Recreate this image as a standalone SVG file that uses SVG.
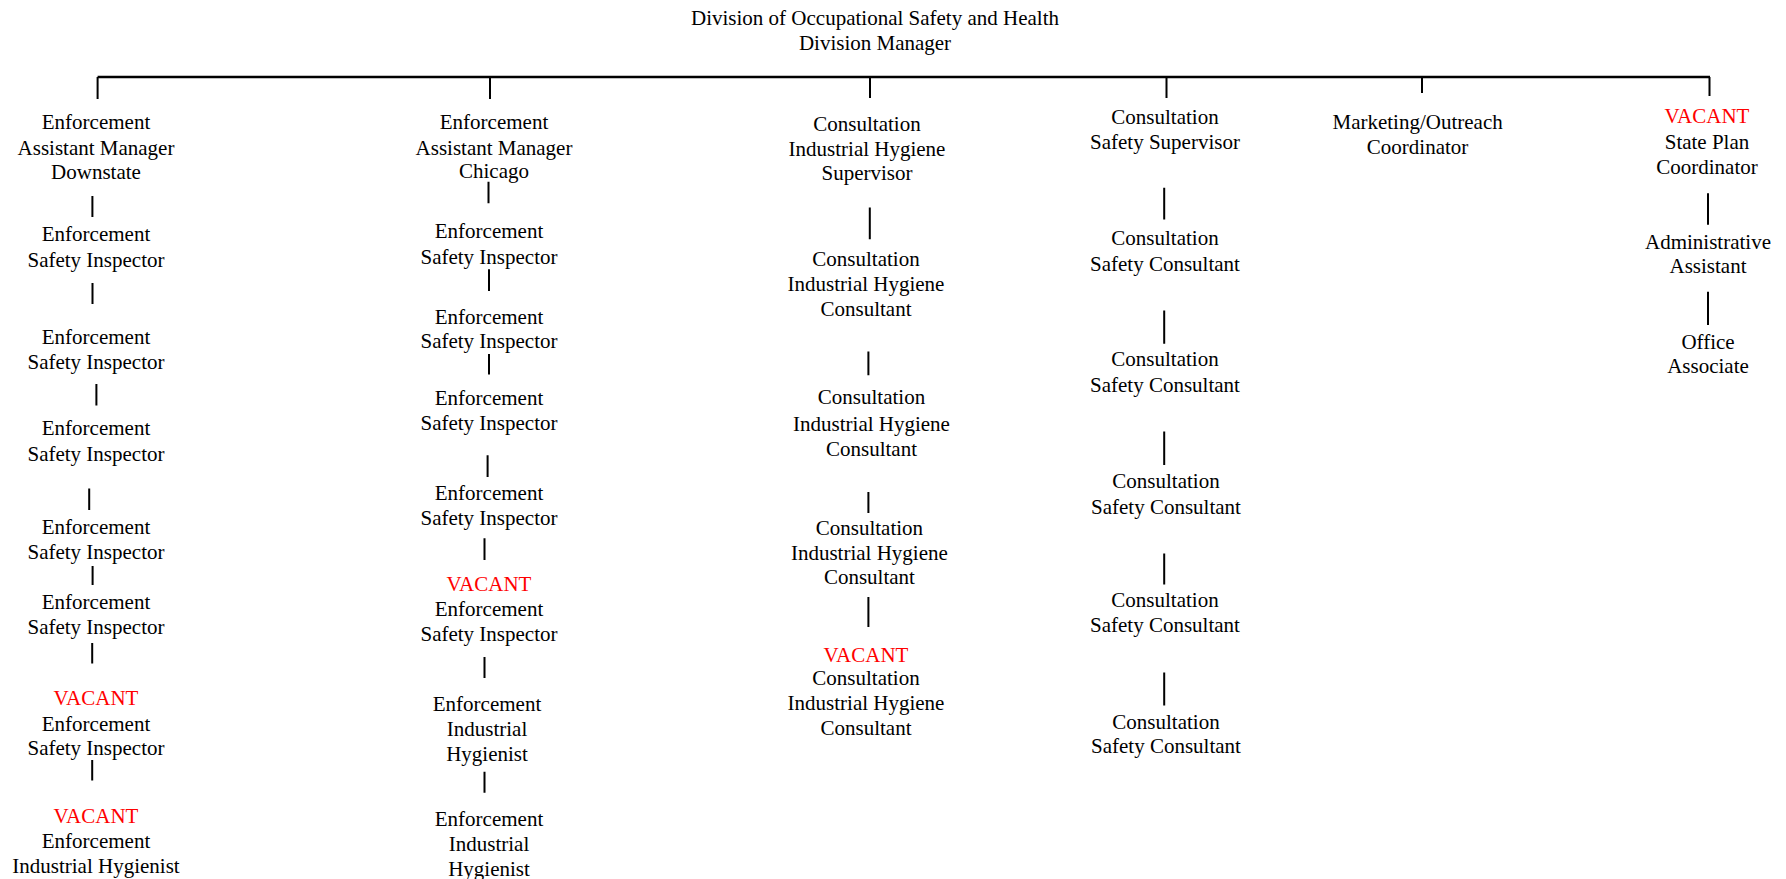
<svg xmlns="http://www.w3.org/2000/svg" width="1786" height="879" viewBox="0 0 1786 879">
<style>
text{font-family:"Liberation Serif","Times New Roman",serif;font-size:21px;fill:#000;text-anchor:middle}
.v{fill:#FF0000}
.ln{stroke:#000;stroke-width:2;fill:none}
.bus{stroke:#000;stroke-width:2.4;fill:none}
</style>
<rect width="1786" height="879" fill="#fff"/>
<g id="title"><text x="875" y="25">Division of Occupational Safety and Health</text><text x="875" y="50">Division Manager</text></g>
<g id="connectors">
<path class="bus" d="M97.6 77H1710"/>
<path class="ln" d="M97.6 77V99M490 77V99M870 77V98M1166.5 77V98M1422 77V93M1709.5 77V96"/>
<path class="ln" d="M92.4 196V217M92.5 283V304M96.4 384V405.5M89.2 488.6V510M92.6 566V585M92.2 643V663.5M92.2 760V780.6"/>
<path class="ln" d="M488.5 181.7V203.3M489 269.3V291M489 354V374.5M487.6 455.3V477M484.5 538.3V560M484.5 657V678M484.5 771.8V792.8"/>
<path class="ln" d="M869.8 207.6V239.3M868.4 351.5V375.2M868.4 492V513M868.4 597V627"/>
<path class="ln" d="M1164.2 187.7V219.4M1164.2 310.5V343.8M1164.2 431.4V465.1M1164.2 553.5V584.5M1164.2 672.5V705.4"/>
<path class="ln" d="M1708 193.3V224.7M1708 291.7V325"/>
</g>
<g id="n1a"><text x="96" y="129">Enforcement</text><text x="96" y="155">Assistant Manager</text><text x="96" y="179">Downstate</text></g>
<g id="n1b"><text x="96" y="241">Enforcement</text><text x="96" y="267">Safety Inspector</text></g>
<g id="n1c"><text x="96" y="344">Enforcement</text><text x="96" y="369">Safety Inspector</text></g>
<g id="n1d"><text x="96" y="435">Enforcement</text><text x="96" y="461">Safety Inspector</text></g>
<g id="n1e"><text x="96" y="534">Enforcement</text><text x="96" y="559">Safety Inspector</text></g>
<g id="n1f"><text x="96" y="609">Enforcement</text><text x="96" y="634">Safety Inspector</text></g>
<g id="n1g"><text class="v" x="96" y="705">VACANT</text><text x="96" y="731">Enforcement</text><text x="96" y="755">Safety Inspector</text></g>
<g id="n1h"><text class="v" x="96" y="823">VACANT</text><text x="96" y="848">Enforcement</text><text x="96" y="873">Industrial Hygienist</text></g>
<g id="n2a"><text x="494" y="129">Enforcement</text><text x="494" y="155">Assistant Manager</text><text x="494" y="178">Chicago</text></g>
<g id="n2b"><text x="489" y="238">Enforcement</text><text x="489" y="264">Safety Inspector</text></g>
<g id="n2c"><text x="489" y="323.5">Enforcement</text><text x="489" y="348">Safety Inspector</text></g>
<g id="n2d"><text x="489" y="404.5">Enforcement</text><text x="489" y="429.5">Safety Inspector</text></g>
<g id="n2e"><text x="489" y="499.5">Enforcement</text><text x="489" y="525">Safety Inspector</text></g>
<g id="n2f"><text class="v" x="489" y="591">VACANT</text><text x="489" y="616">Enforcement</text><text x="489" y="641">Safety Inspector</text></g>
<g id="n2g"><text x="487" y="711">Enforcement</text><text x="487" y="735.5">Industrial</text><text x="487" y="761">Hygienist</text></g>
<g id="n2h"><text x="489" y="826">Enforcement</text><text x="489" y="851">Industrial</text><text x="489" y="876">Hygienist</text></g>
<g id="n3a"><text x="867" y="131">Consultation</text><text x="867" y="155.5">Industrial Hygiene</text><text x="867" y="180">Supervisor</text></g>
<g id="n3b"><text x="866" y="266">Consultation</text><text x="866" y="291">Industrial Hygiene</text><text x="866" y="316">Consultant</text></g>
<g id="n3c"><text x="871.5" y="403.5">Consultation</text><text x="871.5" y="431">Industrial Hygiene</text><text x="871.5" y="456">Consultant</text></g>
<g id="n3d"><text x="869.4" y="535">Consultation</text><text x="869.4" y="559.5">Industrial Hygiene</text><text x="869.4" y="584">Consultant</text></g>
<g id="n3e"><text class="v" x="866" y="661.5">VACANT</text><text x="866" y="685">Consultation</text><text x="866" y="710">Industrial Hygiene</text><text x="866" y="735">Consultant</text></g>
<g id="n4a"><text x="1165" y="124">Consultation</text><text x="1165" y="149">Safety Supervisor</text></g>
<g id="n4b"><text x="1165" y="245">Consultation</text><text x="1165" y="271">Safety Consultant</text></g>
<g id="n4c"><text x="1165" y="366">Consultation</text><text x="1165" y="392">Safety Consultant</text></g>
<g id="n4d"><text x="1166" y="488">Consultation</text><text x="1166" y="513.5">Safety Consultant</text></g>
<g id="n4e"><text x="1165" y="607">Consultation</text><text x="1165" y="632">Safety Consultant</text></g>
<g id="n4f"><text x="1166" y="728.5">Consultation</text><text x="1166" y="752.5">Safety Consultant</text></g>
<g id="n5a"><text x="1417.6" y="129">Marketing/Outreach</text><text x="1417.6" y="154">Coordinator</text></g>
<g id="n6a"><text class="v" x="1707" y="123">VACANT</text><text x="1707" y="149">State Plan</text><text x="1707" y="174">Coordinator</text></g>
<g id="n6b"><text x="1708" y="249">Administrative</text><text x="1708" y="273">Assistant</text></g>
<g id="n6c"><text x="1708" y="349">Office</text><text x="1708" y="373">Associate</text></g>
</svg>
